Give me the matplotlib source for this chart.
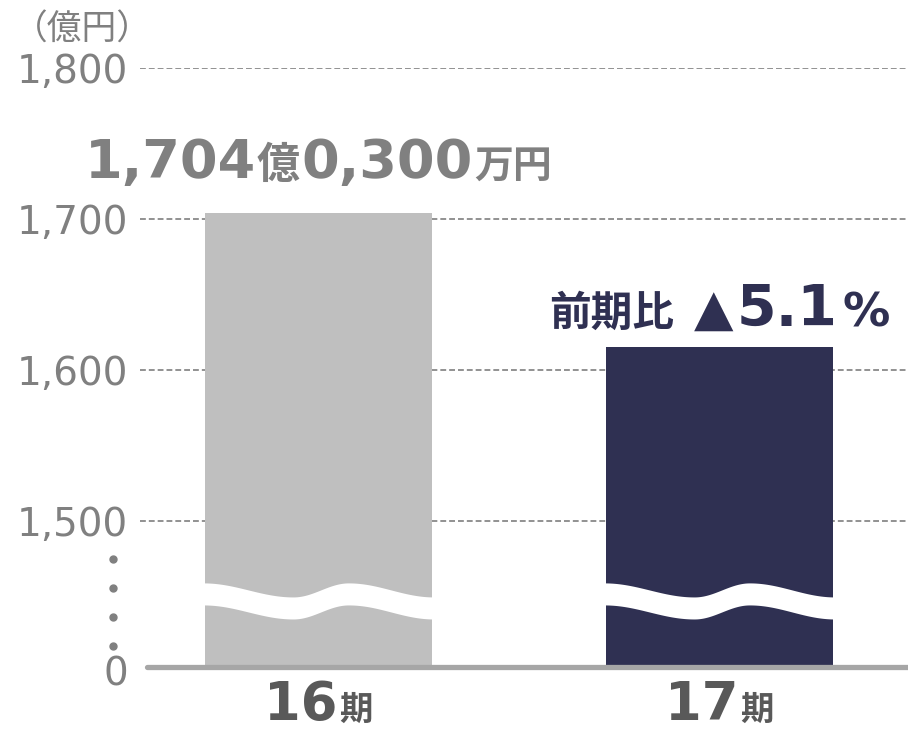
import numpy as np
import matplotlib
matplotlib.use('Agg')
import matplotlib.pyplot as plt
import matplotlib.transforms as mtransforms

plt.rcParams['font.family'] = ['DejaVu Sans', 'Noto Sans CJK JP']

# data
periods = ['16', '17']
sales = [1704.03, 1615.2]          # 億円
bar_colors = ['#BFBFBF', '#2F3052']
yticks = [1500, 1600, 1700, 1800]
ytick_labels = ['1,500', '1,600', '1,700', '1,800']
unit_label = '（億円）'
sales_label = [('1,704', 39, 0), ('億', 31, 1), ('0,300', 39, 1), ('万円', 28, 2)]
change_label = [('前期比', 30, 0), ('▲', 37, 20), ('5.1', 41, 4), ('%', 34, 5)]

GRAY = '#808080'
NAVY = '#2F3052'
DPI = 100

# value drawn at the baseline stands for 0 (broken axis)
y_floor = 1403.3

fig = plt.figure(figsize=(9.08, 7.34), dpi=DPI)
ax = fig.add_axes([140 / 908, 1 - 667 / 734, 768 / 908, 599 / 734])

x = np.arange(len(sales))
width = 0.566
ax.bar(x, [v - y_floor for v in sales], bottom=y_floor, width=width,
       color=bar_colors, zorder=2)

ax.set_xlim(-0.445, 1.47)
ax.set_ylim(y_floor, 1800)

# grid lines
for v in yticks:
    ax.axhline(v, color='#7F7F7F', lw=1.2, ls=(0, (3.5, 1.8)), zorder=1)

# baseline
ax.axhline(y_floor, xmin=0.009, xmax=1, color='#A6A6A6', lw=3.8,
           solid_capstyle='round', zorder=4, clip_on=False)

# wavy break through each bar
def wave(t, knots, vals):
    out = np.empty_like(t)
    for i in range(len(knots) - 1):
        m = (t >= knots[i]) & (t <= knots[i + 1])
        s = (t[m] - knots[i]) / (knots[i + 1] - knots[i])
        out[m] = vals[i] + (vals[i + 1] - vals[i]) * (1 - np.cos(np.pi * s)) / 2
    return out

t = np.linspace(0, 1, 200)
top_edge = wave(t, [0, 0.39, 0.63, 1], [1459, 1449.7, 1459, 1449.7])
for xi in x:
    xs = xi - width / 2 - 0.004 + t * (width + 0.008)
    ax.fill_between(xs, top_edge - 14.6, top_edge, color='white', lw=0, zorder=3)

# break dots on the y axis
for yd in np.linspace(1475, 1417, 4):
    ax.plot([-0.035], [yd], 'o', ms=5, color=GRAY, transform=ax.get_yaxis_transform(),
            clip_on=False)

ax.set_yticks(yticks, ytick_labels)
ax.set_xticks([])
ax.tick_params(axis='y', length=0, pad=8.6, labelsize=28, labelcolor=GRAY)
for sp in ax.spines.values():
    sp.set_visible(False)

ax.annotate('0', xy=(0, y_floor), xycoords=('axes fraction', 'data'),
            xytext=(-12, -8), textcoords='offset pixels', ha='right', va='center',
            fontsize=28, color=GRAY)

fig.text(13 / 908, 1 - 40 / 734, unit_label, fontsize=25, color=GRAY, va='baseline')


def draw_pieces(xc, yv, pieces, color, dy):
    renderer = fig.canvas.get_renderer()
    texts, gaps = [], []
    for s, size, gap in pieces:
        texts.append(ax.text(xc, yv, s, fontsize=size, fontweight='bold', color=color,
                             va='baseline', ha='left', zorder=5, clip_on=False))
        gaps.append(gap)
    widths = [tx.get_window_extent(renderer).width for tx in texts]
    total = sum(widths) + sum(gaps)
    off = -total / 2
    for tx, w, g in zip(texts, widths, gaps):
        off += g
        tx.set_transform(ax.transData + mtransforms.ScaledTranslation(
            off / DPI, dy / DPI, fig.dpi_scale_trans))
        off += w


draw_pieces(x[0], sales[0], sales_label, GRAY, 35)
draw_pieces(x[1], sales[1], change_label, NAVY, 21)
for xi, p in zip(x, periods):
    draw_pieces(xi, y_floor, [(p, 38, 0), ('期', 24, 2)], '#595959', -53)

fig.savefig('out.png', dpi=DPI)
